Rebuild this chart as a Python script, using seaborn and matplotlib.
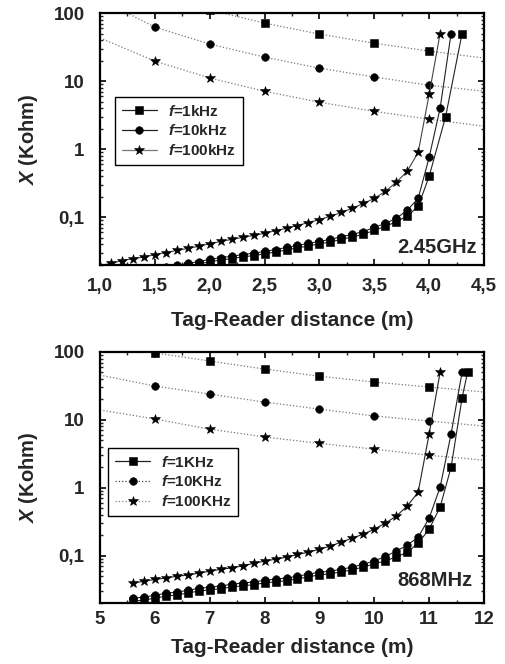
import numpy as np
import pandas as pd
import matplotlib
matplotlib.use("Agg")
import matplotlib.pyplot as plt
from matplotlib.ticker import (FixedLocator, FixedFormatter, MultipleLocator,
                               FuncFormatter, LogLocator, NullFormatter)
from matplotlib.lines import Line2D
import seaborn as sns

sns.set_style("ticks")
plt.rcParams['font.family'] = ['Liberation Sans', 'DejaVu Sans']
plt.rcParams['font.weight'] = 'bold'
plt.rcParams['axes.labelweight'] = 'bold'
plt.rcParams['mathtext.fontset'] = 'custom'
plt.rcParams['mathtext.it'] = 'Liberation Sans:italic:bold'
plt.rcParams['mathtext.rm'] = 'Liberation Sans:bold'
plt.rcParams['mathtext.bf'] = 'Liberation Sans:bold'

# ---------------- 2.45 GHz ----------------
ghz_star_d = [1.0, 1.1, 1.2, 1.3, 1.4, 1.5, 1.6, 1.7, 1.8, 1.9, 2.0, 2.1, 2.2, 2.3, 2.4,
              2.5, 2.6, 2.7, 2.8, 2.9, 3.0, 3.1, 3.2, 3.3, 3.4, 3.5, 3.6, 3.7, 3.8, 3.9,
              4.0, 4.1]
ghz_star_x = [0.0196, 0.0211, 0.0232, 0.0248, 0.0262, 0.0284, 0.0305, 0.0327, 0.0350,
              0.0375, 0.0412, 0.0443, 0.0475, 0.0508, 0.0543, 0.0582, 0.0640, 0.0690,
              0.0760, 0.0840, 0.0930, 0.1035, 0.118, 0.136, 0.160, 0.190, 0.240, 0.327,
              0.475, 0.90, 6.4, 50.0]

ghz_circ_d = [1.6, 1.7, 1.8, 1.9, 2.0, 2.1, 2.2, 2.3, 2.4, 2.5, 2.6, 2.7, 2.8, 2.9, 3.0,
              3.1, 3.2, 3.3, 3.4, 3.5, 3.6, 3.7, 3.8, 3.9, 4.0, 4.1, 4.2]
ghz_circ_x = [0.0185, 0.0198, 0.0211, 0.0225, 0.0241, 0.0257, 0.0268, 0.0285, 0.0297,
              0.0316, 0.0337, 0.0362, 0.0388, 0.0415, 0.0444, 0.0475, 0.0520, 0.0562,
              0.0620, 0.0712, 0.0815, 0.0966, 0.127, 0.190, 0.76, 4.0, 50.0]

ghz_sq_d = [1.6, 1.7, 1.8, 1.9, 2.0, 2.1, 2.2, 2.3, 2.4, 2.5, 2.6, 2.7, 2.8, 2.9, 3.0,
            3.1, 3.2, 3.3, 3.4, 3.5, 3.6, 3.7, 3.8, 3.9, 4.0, 4.15, 4.3]
ghz_sq_x = [0.0172, 0.0183, 0.0195, 0.0208, 0.0222, 0.0237, 0.0248, 0.0263, 0.0275,
            0.0292, 0.0311, 0.0333, 0.0356, 0.0381, 0.0408, 0.0436, 0.0476, 0.0514,
            0.0565, 0.0645, 0.0735, 0.0865, 0.104, 0.145, 0.40, 3.0, 50.0]

ghz_cap_d = [1.0, 1.5, 2.0, 2.5, 3.0, 3.5, 4.0, 4.5]
ghz_cap_1k = [440, 197, 111, 71, 49, 36, 27.6, 21.8]
ghz_cap_10k = [160, 62, 35, 22.5, 15.5, 11.5, 8.7, 7.1]
ghz_cap_100k = [43, 19.7, 11.1, 7.1, 4.9, 3.6, 2.76, 2.18]

ghz_labels = [r'$\mathit{f}$=1kHz', r'$\mathit{f}$=10kHz', r'$\mathit{f}$=100kHz']

# ---------------- 868 MHz ----------------
mhz_star_d = [5.6, 5.8, 6.0, 6.2, 6.4, 6.6, 6.8, 7.0, 7.2, 7.4, 7.6, 7.8, 8.0, 8.2, 8.4,
              8.6, 8.8, 9.0, 9.2, 9.4, 9.6, 9.8, 10.0, 10.2, 10.4, 10.6, 10.8, 11.0, 11.2]
mhz_star_x = [0.0392, 0.0419, 0.0445, 0.0466, 0.0495, 0.0517, 0.0550, 0.0587, 0.0627,
              0.0660, 0.0705, 0.0770, 0.0827, 0.0885, 0.0947, 0.104, 0.112, 0.124,
              0.138, 0.158, 0.181, 0.207, 0.245, 0.300, 0.381, 0.535, 0.86, 6.2, 50.0]

mhz_circ_d = [5.6, 5.8, 6.0, 6.2, 6.4, 6.6, 6.8, 7.0, 7.2, 7.4, 7.6, 7.8, 8.0, 8.2, 8.4,
              8.6, 8.8, 9.0, 9.2, 9.4, 9.6, 9.8, 10.0, 10.2, 10.4, 10.6, 10.8, 11.0, 11.2,
              11.4, 11.6]
mhz_circ_x = [0.0236, 0.0244, 0.0260, 0.0278, 0.0289, 0.0308, 0.0328, 0.0342, 0.0356,
              0.0378, 0.0393, 0.0407, 0.0433, 0.0449, 0.0466, 0.0497, 0.0532, 0.0568,
              0.0590, 0.0630, 0.0675, 0.0747, 0.0827, 0.0975, 0.116, 0.142, 0.187,
              0.356, 1.02, 6.2, 50.0]

mhz_sq_d = [5.6, 5.8, 6.0, 6.2, 6.4, 6.6, 6.8, 7.0, 7.2, 7.4, 7.6, 7.8, 8.0, 8.2, 8.4,
            8.6, 8.8, 9.0, 9.2, 9.4, 9.6, 9.8, 10.0, 10.2, 10.4, 10.6, 10.8, 11.0, 11.2,
            11.4, 11.6, 11.7]
mhz_sq_x = [0.0212, 0.0221, 0.0236, 0.0252, 0.0263, 0.0281, 0.0299, 0.0312, 0.0325,
            0.0345, 0.0358, 0.0372, 0.0396, 0.0410, 0.0426, 0.0454, 0.0486, 0.0519,
            0.0539, 0.0575, 0.0616, 0.0680, 0.0750, 0.0840, 0.095, 0.112, 0.152,
            0.245, 0.518, 2.0, 21.0, 50.0]

mhz_cap_d = [5, 6, 7, 8, 9, 10, 11, 12]
mhz_cap_1k = [140, 97, 73.6, 56, 44, 36, 30.5, 25.7]
mhz_cap_10k = [45.7, 31.5, 24, 18.3, 14.4, 11.4, 9.6, 8.1]
mhz_cap_100k = [14, 10.3, 7.3, 5.6, 4.5, 3.7, 3.0, 2.55]

mhz_labels = [r'$\mathit{f}$=1KHz', r'$\mathit{f}$=10KHz', r'$\mathit{f}$=100KHz']

y_ticks = [0.1, 1, 10, 100]
y_tick_labels = ['0,1', '1', '10', '100']

MS = 5.5
markers = ['s', 'o', '*']


def steep(ax, d, x, marker, color='#222222', ms=MS):
    sns.lineplot(x=d, y=x, ax=ax, color=color, lw=0.8, marker=marker,
                 markersize=ms + (1.8 if marker == '*' else 0),
                 markerfacecolor='black', markeredgecolor='black',
                 markeredgewidth=0.4, estimator=None, sort=False)


def capline(ax, d, x, marker):
    n = len(d)
    sns.lineplot(x=d, y=x, ax=ax, color='#777777', lw=0.9, linestyle=':',
                 marker=marker, markersize=MS + (1.8 if marker == '*' else 0),
                 markerfacecolor='black', markeredgecolor='black',
                 markeredgewidth=0.4, markevery=list(range(1, n - 1)),
                 estimator=None, sort=False)


def style_axes(ax, xlim, xmajor, xminor, comma, xpad, xlabelpad):
    ax.set_yscale('log')
    ax.set_ylim(0.02, 100)
    ax.set_xlim(*xlim)
    ax.xaxis.set_major_locator(MultipleLocator(xmajor))
    ax.xaxis.set_minor_locator(MultipleLocator(xminor))
    if comma:
        ax.xaxis.set_major_formatter(FuncFormatter(lambda v, p: f'{v:.1f}'.replace('.', ',')))
    else:
        ax.xaxis.set_major_formatter(FuncFormatter(lambda v, p: f'{v:.0f}'))
    ax.yaxis.set_major_locator(FixedLocator(y_ticks))
    ax.yaxis.set_major_formatter(FixedFormatter(y_tick_labels))
    ax.yaxis.set_minor_locator(LogLocator(base=10, subs=np.arange(2, 10)))
    ax.yaxis.set_minor_formatter(NullFormatter())
    ax.tick_params(which='both', direction='in', top=True, right=True)
    ax.tick_params(which='major', length=4.5, width=1.4, labelsize=13.5)
    ax.tick_params(which='minor', length=2.5, width=1.0)
    ax.tick_params(axis='x', which='major', pad=xpad)
    ax.tick_params(axis='y', which='major', pad=11)
    for lab in ax.get_xticklabels() + ax.get_yticklabels():
        lab.set_fontweight('bold')
    for sp in ax.spines.values():
        sp.set_linewidth(1.6)
        sp.set_color('black')
    ax.set_xlabel('Tag-Reader distance (m)', fontsize=15, fontweight='bold',
                  labelpad=xlabelpad)
    ax.set_ylabel(r'$\mathit{X}$ (Kohm)', fontsize=14.5, fontweight='bold', labelpad=10)


fig = plt.figure(figsize=(5.05, 6.64), dpi=100)
ax1 = fig.add_axes([100 / 505, 1 - 265 / 664, 384 / 505, 252 / 664])
ax2 = fig.add_axes([100 / 505, 1 - 603 / 664, 384 / 505, 251 / 664])

# upper panel
capline(ax1, ghz_cap_d, ghz_cap_1k, 's')
capline(ax1, ghz_cap_d, ghz_cap_10k, 'o')
capline(ax1, ghz_cap_d, ghz_cap_100k, '*')
steep(ax1, ghz_sq_d, ghz_sq_x, 's')
steep(ax1, ghz_circ_d, ghz_circ_x, 'o')
steep(ax1, ghz_star_d, ghz_star_x, '*', color='#444444')
style_axes(ax1, (1.0, 4.5), 0.5, 0.25, True, 9, 12)
ax1.text(0.982, 0.048, '2.45GHz', transform=ax1.transAxes, ha='right', va='baseline',
         fontsize=14.5, fontweight='bold')

# lower panel
capline(ax2, mhz_cap_d, mhz_cap_1k, 's')
capline(ax2, mhz_cap_d, mhz_cap_10k, 'o')
capline(ax2, mhz_cap_d, mhz_cap_100k, '*')
steep(ax2, mhz_sq_d, mhz_sq_x, 's')
steep(ax2, mhz_circ_d, mhz_circ_x, 'o')
steep(ax2, mhz_star_d, mhz_star_x, '*')
style_axes(ax2, (5, 12), 1, 0.5, False, 6, 7)
ax2.text(0.971, 0.068, '868MHz', transform=ax2.transAxes, ha='right', va='baseline',
         fontsize=14.5, fontweight='bold')


def legend(ax, labels, styles, anchor):
    handles = []
    for mk, (ls, col) in zip(markers, styles):
        handles.append(Line2D([], [], color=col, lw=0.9, linestyle=ls, marker=mk,
                              markersize=MS + (1.8 if mk == '*' else 0),
                              markerfacecolor='black', markeredgecolor='black',
                              markeredgewidth=0.4))
    lg = ax.legend(handles, labels, loc='upper left', bbox_to_anchor=anchor,
                   fontsize=11, frameon=True, fancybox=False, framealpha=1,
                   edgecolor='black', handlelength=2.3, handletextpad=0.7,
                   labelspacing=0.3, borderpad=0.45, borderaxespad=0)
    lg.get_frame().set_linewidth(1.0)
    for t in lg.get_texts():
        t.set_fontweight('bold')


legend(ax1, ghz_labels, [('-', '#222222'), ('-', '#222222'), ('-', '#777777')],
       (0.039, 0.667))
legend(ax2, mhz_labels, [('-', '#222222'), (':', '#444444'), (':', '#888888')],
       (0.021, 0.618))

fig.savefig('out.png', dpi=100)
